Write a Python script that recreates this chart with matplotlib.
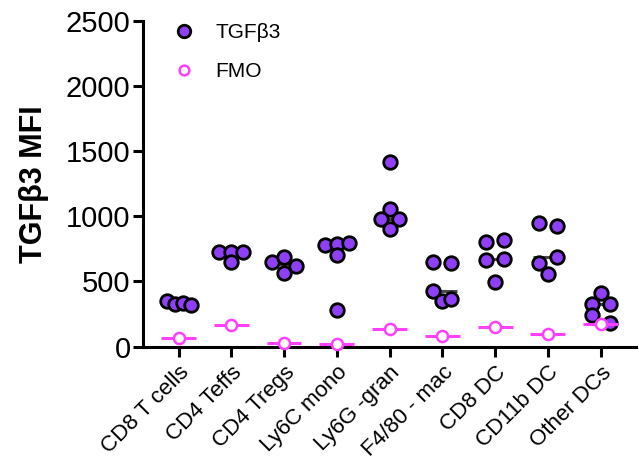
import numpy as np
import matplotlib.pyplot as plt
from matplotlib.lines import Line2D

plt.rcParams['font.family'] = ['Liberation Sans', 'DejaVu Sans']

cells = ['CD8 T cells', 'CD4 Teffs', 'CD4 Tregs', 'Ly6C mono', 'Ly6G -gran',
         'F4/80 - mac', 'CD8 DC', 'CD11b DC', 'Other DCs']

# TGFb3 MFI per mouse, one list per cell type
tgfb3 = [
    [352, 329, 337, 321],
    [724, 729, 724, 648],
    [652, 686, 619, 563],
    [780, 787, 793, 703, 278],
    [1417, 1055, 976, 976, 900],
    [652, 640, 430, 354, 365],
    [800, 818, 665, 673, 495],
    [946, 925, 640, 690, 556],
    [415, 326, 326, 245, 178],
]
# FMO control, one value per cell type
fmo = [69, 170, 25, 20, 135, 79, 148, 99, 171]

purple = '#8f3ff5'
magenta = '#ff40ff'

fig = plt.figure(figsize=(6.39, 4.72), dpi=100)
ax = fig.add_axes([0.2238, 0.2655, 0.7715, 0.6906])
ax.set_xlim(-0.674, 8.67)
ax.set_ylim(0, 2500)

# pixel scale of the data units, used to spread overlapping points
p0 = ax.transData.transform((0, 0))
p1 = ax.transData.transform((1, 1))
ppx, ppy = p1[0] - p0[0], p1[1] - p0[1]


def swarm(vals, row_px=9.5, width_px=24, max_gap=18):
    # group points into rows of near-equal value, spread each row sideways
    vals = np.asarray(vals, dtype=float)
    off = np.zeros(len(vals))
    rows = []
    for idx in np.argsort(-vals, kind='stable'):
        if rows and (vals[rows[-1][0]] - vals[idx]) * ppy < row_px:
            rows[-1].append(idx)
        else:
            rows.append([idx])
    for row in rows:
        row.sort()
        n = len(row)
        if n > 1:
            gap = min(max_gap, width_px / (n - 1))
            for k, idx in enumerate(row):
                off[idx] = (k - (n - 1) / 2) * gap
    return off / ppx


for i, vals in enumerate(tgfb3):
    med = np.median(vals)
    ax.plot([i - 0.28, i + 0.28], [med, med], color='#4a4a4a', lw=2.2, zorder=2,
            solid_capstyle='butt')
    xs = i + swarm(vals)
    ax.scatter(xs, vals, s=95, color=purple, edgecolors='black', linewidths=2.0,
               zorder=3, clip_on=False)
    ax.plot([i - 0.33, i + 0.33], [fmo[i], fmo[i]], color=magenta, lw=2.2, zorder=4,
            solid_capstyle='butt', clip_on=False)
    ax.plot(i, fmo[i], 'o', ms=8, mfc='white', mec=magenta, mew=1.8, zorder=5,
            clip_on=False)

for s in ['top', 'right']:
    ax.spines[s].set_visible(False)
for s in ['left', 'bottom']:
    ax.spines[s].set_linewidth(2.2)

ax.set_yticks(np.arange(0, 2501, 500))
ax.set_xticks(range(len(cells)))
ax.set_xticklabels(cells, rotation=45, ha='right', rotation_mode='anchor', fontsize=16)
ax.tick_params(axis='both', length=7, width=2.2, direction='out', color='black')
ax.tick_params(axis='y', labelsize=21, pad=2)
ax.tick_params(axis='x', pad=4)
ax.set_ylabel('TGF\u03b23 MFI', fontsize=22, fontweight='bold', labelpad=12)

handles = [
    Line2D([], [], ls='none', marker='o', ms=9, mfc=purple, mec='black', mew=2.0),
    Line2D([], [], ls='none', marker='o', ms=7, mfc='white', mec=magenta, mew=1.8),
]
ax.legend(handles, ['TGF\u03b23', 'FMO'], loc='upper left', bbox_to_anchor=(0.02, 1.05),
          frameon=False, fontsize=15, labelspacing=0.95, handletextpad=0.9,
          handlelength=1.2)

fig.savefig('out.png', dpi=100)
